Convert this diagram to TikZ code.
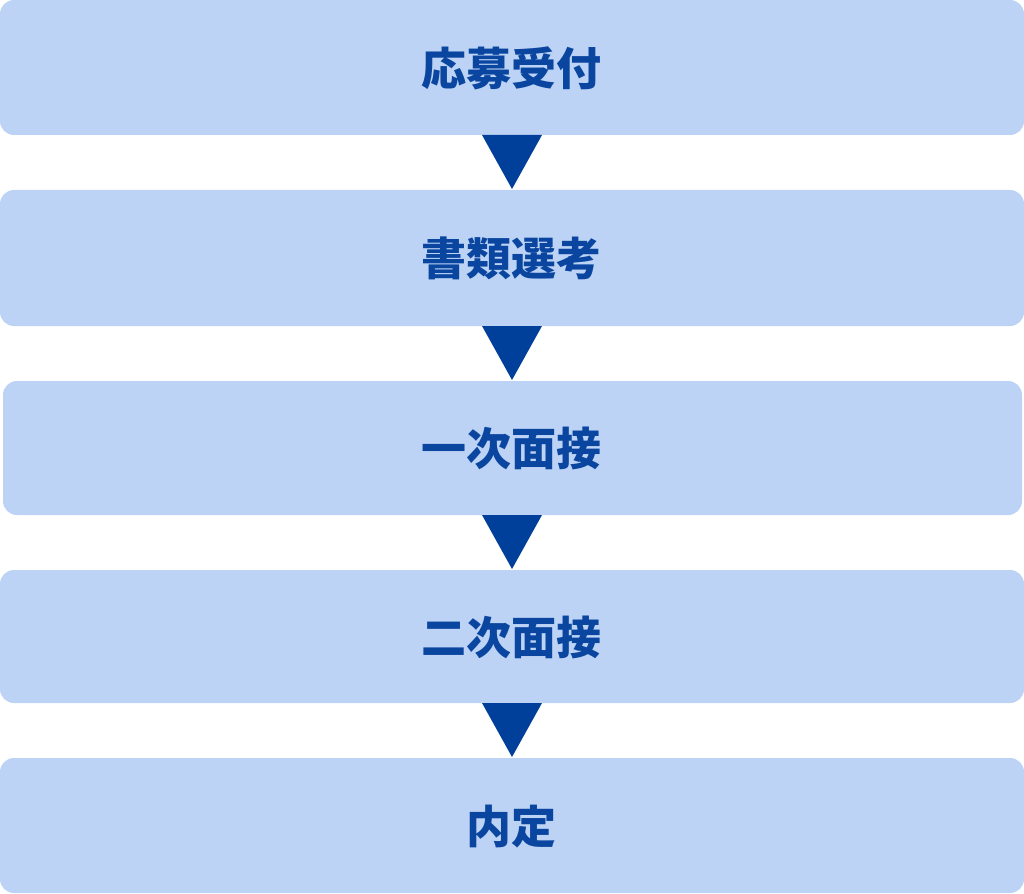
\documentclass[tikz,border=0pt]{standalone}
\usepackage{fontspec}
\newfontfamily\jp{Noto Sans CJK JP}
\usetikzlibrary{calc}
\definecolor{boxfill}{HTML}{BCD3F5}
\definecolor{darkblue}{HTML}{0A46A0}
\definecolor{arrowblue}{HTML}{003F9A}
\tikzset{
  stepbox/.style={fill=boxfill, draw=none, rounded corners=14pt, inner sep=0pt},
  steptext/.style={text=darkblue, font=\jp\bfseries\fontsize{45}{50}\selectfont},
  flowarrow/.style={fill=arrowblue, draw=none}
}
\begin{document}
\begin{tikzpicture}[x=1pt,y=-1pt]
\useasboundingbox (0,0) rectangle (1024,893);
\path[stepbox] (0,0) rectangle (1024,135);
\path[stepbox] (0,190) rectangle (1024,326);
\path[stepbox] (3,381) rectangle (1022,515);
\path[stepbox] (0,570) rectangle (1024,703);
\path[stepbox] (0,758) rectangle (1024,893);
\coordinate (s1) at (512,135); \coordinate (n2) at (512,189);
\coordinate (s2) at (512,326); \coordinate (n3) at (512,380);
\coordinate (s3) at (512,515); \coordinate (n4) at (512,569);
\coordinate (s4) at (512,703); \coordinate (n5) at (512,757);
\node[steptext] (t1) at (511,68) {応募受付};
\node[steptext] (t2) at (511,258) {書類選考};
\node[steptext] (t3) at (511,448) {一次面接};
\node[steptext] (t4) at (511,637) {二次面接};
\node[steptext] (t5) at (511,827) {内定};
\foreach \a/\b in {s1/n2,s2/n3,s3/n4,s4/n5}{
  \fill[flowarrow] ($(\a)+(-30,0)$) -- ($(\a)+(30,0)$) -- (\b) -- cycle;
}
\end{tikzpicture}
\end{document}
